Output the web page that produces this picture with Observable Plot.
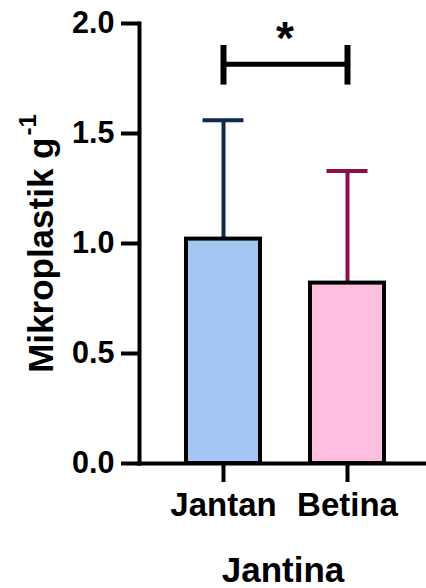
<!DOCTYPE html>
<html><head><meta charset="utf-8">
<script src="https://cdn.jsdelivr.net/npm/d3@7"></script>
<script src="https://cdn.jsdelivr.net/npm/@observablehq/plot@0.6"></script>
<style>
html,body{margin:0;padding:0;background:#fff;}
#chart{width:426px;height:588px;}
</style></head><body><div id="chart"></div>
<script>
const categories = ["Jantan", "Betina"];
const meanValues = [1.02, 0.82];
const errorTops = [1.56, 1.33];
const barColors = ["#a4c6f2", "#fdbfdf"];
const errorColors = ["#0e2a4d", "#8c0c4c"];
const yTickValues = [0, 0.5, 1.0, 1.5, 2.0];
const yTitle = "Mikroplastik g";
const ySuperscript = "-1";
const xTitle = "Jantina";
const sigPair = ["Jantan", "Betina"];
const sigLineY = 1.815;
const sigEnds = [1.72, 1.90];
const sigStarY = 1.93;
const sigLabel = "*";

const rows = categories.map((c, i) => ({cat: c, mean: meanValues[i], top: errorTops[i], fill: barColors[i], err: errorColors[i]}));
const FONT = "'Liberation Sans', Arial, Helvetica, sans-serif";

const chart = Plot.plot({
  width: 426, height: 588,
  marginTop: 23, marginBottom: 125, marginLeft: 139, marginRight: 0,
  style: {fontFamily: FONT, fontWeight: "bold", color: "black", background: "white", overflow: "visible"},
  x: {domain: categories, paddingInner: 0.4, paddingOuter: 0.348, align: 0.529},
  y: {domain: [0, 2]},
  color: {type: "identity"},
  marks: [
    Plot.ruleX(rows, {x: "cat", y1: "mean", y2: "top", stroke: "err", strokeWidth: 4}),
    Plot.tickY(rows, {x: "cat", y: "top", stroke: "err", strokeWidth: 4, insetLeft: 16.5, insetRight: 16.5}),
    Plot.barY(rows, {x: "cat", y: "mean", fill: "fill", stroke: "black", strokeWidth: 4}),
    Plot.ruleY([0], {stroke: "black", strokeWidth: 4, strokeLinecap: "square"}),
    Plot.frame({anchor: "left", stroke: "black", strokeWidth: 4, strokeLinecap: "square"}),
    Plot.axisY({ticks: yTickValues, tickFormat: d3.format(".1f"), tickSize: 18, tickPadding: 7, strokeWidth: 4, fontSize: 30.5, label: null}),
    Plot.axisX({tickSize: 19, tickPadding: 10, strokeWidth: 4, fontSize: 33, label: null}),
    Plot.text([yTitle], {frameAnchor: "left", rotate: -90, dx: -87, textAnchor: "middle", lineAnchor: "bottom", fontSize: 35}),
    Plot.text([xTitle], {frameAnchor: "bottom", dy: 118, lineAnchor: "bottom", fontSize: 35}),
    Plot.line(sigPair.map(c => ({cat: c, y: sigLineY})), {x: "cat", y: "y", stroke: "black", strokeWidth: 5}),
    Plot.ruleX(sigPair, {x: d => d, y1: sigEnds[0], y2: sigEnds[1], stroke: "black", strokeWidth: 6}),
    Plot.text([sigLabel], {y: [sigStarY], text: d => d, frameAnchor: "middle", dx: 2, fontSize: 46, lineAnchor: "middle"})
  ]
});

for (const t of chart.querySelectorAll("text")) {
  if (t.textContent === yTitle) {
    const ts = document.createElementNS("http://www.w3.org/2000/svg", "tspan");
    ts.setAttribute("font-size", "24");
    ts.setAttribute("dy", "-17");
    ts.setAttribute("dx", "2");
    ts.textContent = ySuperscript;
    t.appendChild(ts);
  }
}
document.getElementById("chart").appendChild(chart);
</script>
</body></html>
